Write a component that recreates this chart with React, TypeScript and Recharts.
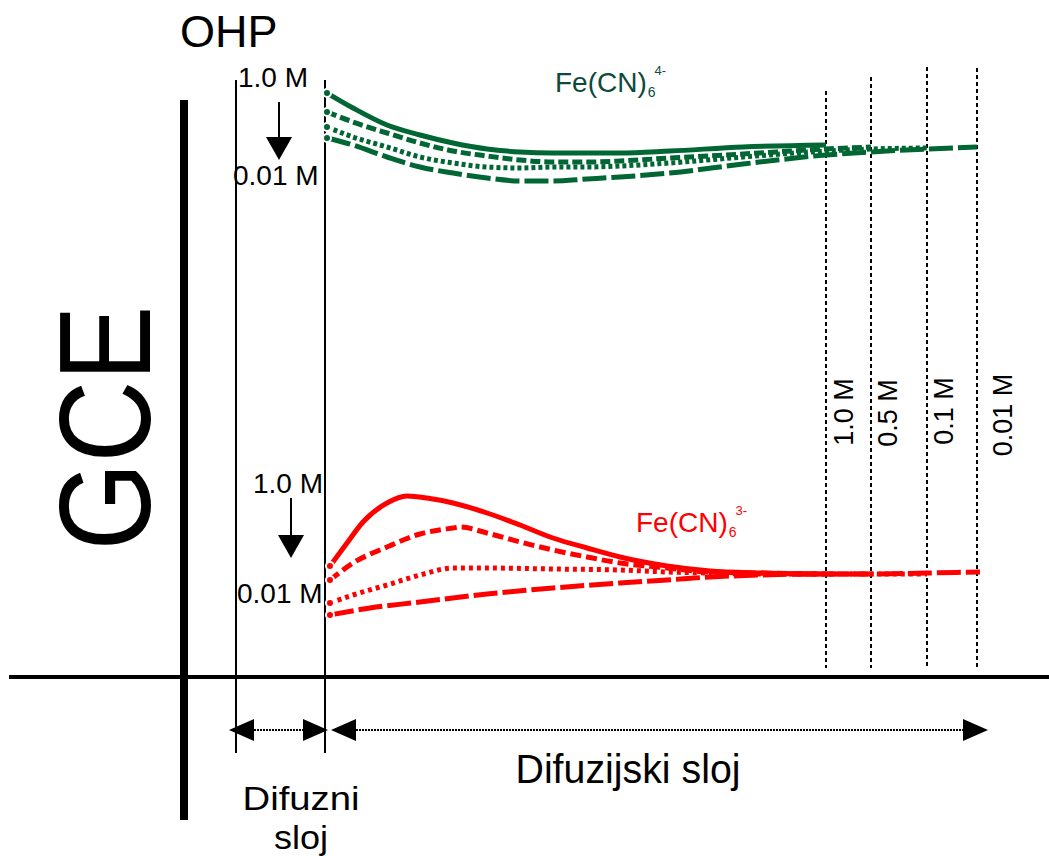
import React from "react";
import { LineChart, Line, XAxis, YAxis, ReferenceLine, ReferenceDot } from "recharts";

// Distance from the electrode surface (arbitrary units) and concentration (arbitrary units)
const greenSolidX = [143, 169, 203, 236, 269, 303, 336, 369, 403, 436, 486, 559, 642];
const greenSolidY = [584, 569, 552, 542, 534, 528, 525, 524, 524, 524, 526, 530, 532];
const greenDashX = [143, 169, 203, 236, 269, 303, 336, 369, 403, 436, 486, 559, 642, 687];
const greenDashY = [565, 555, 544, 534, 526, 521, 517, 515, 515, 516, 519, 523, 528, 530];
const greenDotX = [143, 169, 203, 236, 269, 303, 336, 369, 403, 436, 486, 559, 642, 687, 743];
const greenDotY = [550, 540, 530, 520, 514, 510, 509, 510, 510, 511, 514, 520, 526, 528, 529];
const greenLongX = [143, 169, 203, 236, 269, 303, 336, 369, 403, 436, 486, 559, 642, 687, 743, 793];
const greenLongY = [539, 532, 520, 510, 504, 499, 496, 496, 498, 500, 504, 513, 522, 525, 528, 530];

const redSolidX = [146, 163, 179, 203, 223, 243, 269, 303, 336, 369, 403, 436, 483, 526, 576, 642];
const redSolidY = [111, 134, 155, 174, 181, 179, 174, 164, 152, 139, 129, 120, 111, 106, 104, 103];
const redDashX = [146, 169, 203, 236, 269, 276, 303, 336, 369, 403, 436, 483, 526, 576, 642, 687];
const redDashY = [97, 114, 130, 143, 149, 150, 144, 135, 127, 120, 114, 109, 105, 104, 103, 103];
const redDotX = [146, 169, 203, 236, 269, 303, 369, 436, 483, 526, 576, 642, 687, 743];
const redDotY = [74, 82, 92, 102, 109, 109, 108, 107, 105, 104, 103, 103, 103, 103];
const redLongX = [146, 186, 236, 303, 369, 436, 483, 526, 576, 642, 687, 743, 796];
const redLongY = [62, 69, 75, 83, 89, 94, 97, 100, 102, 103, 103, 104, 105];

// diffusion-layer ends for each concentration
const layerEnds = [642, 687, 743, 793];
const layerTops = [586, 600, 610, 609];
const layerLabels = ["1.0 M", "0.5 M", "0.1 M", "0.01 M"];
const layerLabelX = [669, 713, 769, 828];
const layerLabelY = [265, 264, 266, 262];

const build = (xs: number[], ys: number[]) => xs.map((x, i) => ({ x, y: ys[i] }));

const GREEN = "#006633";
const GREEN_TEXT = "#0d4a3c";
const RED = "#ff0000";
const FONT = "'Liberation Sans', Arial, sans-serif";

const TextShape = (props: any) => {
  const { cx, cy, text, size, anchor = "start", rotate, color = "#000", length } = props;
  const extra: any = {};
  if (length) {
    extra.textLength = length;
    extra.lengthAdjust = "spacingAndGlyphs";
  }
  return (
    <text
      x={cx}
      y={cy}
      fontSize={size}
      fontFamily={FONT}
      fill={color}
      textAnchor={anchor}
      transform={rotate ? `rotate(-90 ${cx} ${cy})` : undefined}
      {...extra}
    >
      {text}
    </text>
  );
};

const IonShape = (props: any) => {
  const { cx, cy, sup, color } = props;
  return (
    <text x={cx} y={cy} fontFamily={FONT} fill={color} fontSize={28}>
      <tspan>Fe(CN)</tspan>
      <tspan dx={1} dy={5} fontSize={14}>6</tspan>
      <tspan dx={-1} dy={-22} fontSize={13}>{sup}</tspan>
    </text>
  );
};

const Head = (props: any) => {
  const { cx, cy, dir, len = 25, half = 11 } = props;
  let pts = "";
  if (dir === "left") pts = `${cx},${cy} ${cx + len},${cy - half} ${cx + len},${cy + half}`;
  if (dir === "right") pts = `${cx},${cy} ${cx - len},${cy - half} ${cx - len},${cy + half}`;
  if (dir === "down") pts = `${cx},${cy} ${cx - half},${cy - len} ${cx + half},${cy - len}`;
  return <polygon points={pts} fill="#000" />;
};

const txt = (x: number, y: number, text: string, opts: any = {}, key?: string) => (
  <ReferenceDot
    key={key}
    x={x}
    y={y}
    r={0}
    ifOverflow="visible"
    shape={(p: any) => <TextShape {...p} text={text} {...opts} />}
  />
);

const head = (x: number, y: number, dir: string, opts: any = {}) => (
  <ReferenceDot x={x} y={y} r={0} ifOverflow="visible" shape={(p: any) => <Head {...p} dir={dir} {...opts} />} />
);

const seg = (x1: number, y1: number, x2: number, y2: number, stroke: string, width: number, dash?: string, key?: string) => (
  <ReferenceLine
    key={key}
    segment={[{ x: x1, y: y1 }, { x: x2, y: y2 }]}
    stroke={stroke}
    strokeWidth={width}
    strokeDasharray={dash}
    ifOverflow="visible"
  />
);

export default function App() {
  return (
    <div style={{ position: "absolute", left: 0, top: 0, width: 1049, height: 856, background: "#fff" }}>
      <LineChart width={1049} height={856} margin={{ top: 0, right: 0, bottom: 0, left: 0 }}>
        <XAxis type="number" dataKey="x" domain={[-184, 865]} hide allowDataOverflow />
        <YAxis type="number" domain={[-179, 677]} hide allowDataOverflow />

        {/* baseline and electrode */}
        {seg(-175, 0, 865, 0, "#000", 4)}
        {seg(0, 577, 0, -143, "#000", 8)}
        {/* OHP and diffuse layer boundary */}
        {seg(52, 597, 52, -76, "#000", 2)}
        {seg(141, 597, 141, -76, "#000", 2)}
        {/* diffusion layer ends */}
        {layerEnds.map((x, i) => seg(x, layerTops[i], x, 9, "#000", 2, "4 3", `le${i}`))}
        {layerLabels.map((t, i) => txt(layerLabelX[i], layerLabelY[i], t, { size: 27, anchor: "middle", rotate: true }, `ll${i}`))}

        <Line data={build(greenSolidX, greenSolidY)} dataKey="y" type="monotone" stroke={GREEN} strokeWidth={5} dot={false} isAnimationActive={false} />
        <Line data={build(greenDashX, greenDashY)} dataKey="y" type="monotone" stroke={GREEN} strokeWidth={5} strokeDasharray="10 4" dot={false} isAnimationActive={false} />
        <Line data={build(greenDotX, greenDotY)} dataKey="y" type="monotone" stroke={GREEN} strokeWidth={5} strokeDasharray="4 3" dot={false} isAnimationActive={false} />
        <Line data={build(greenLongX, greenLongY)} dataKey="y" type="monotone" stroke={GREEN} strokeWidth={5} strokeDasharray="24 5" dot={false} isAnimationActive={false} />

        <Line data={build(redSolidX, redSolidY)} dataKey="y" type="monotone" stroke={RED} strokeWidth={5} dot={false} isAnimationActive={false} />
        <Line data={build(redDashX, redDashY)} dataKey="y" type="monotone" stroke={RED} strokeWidth={5} strokeDasharray="11 5" dot={false} isAnimationActive={false} />
        <Line data={build(redDotX, redDotY)} dataKey="y" type="monotone" stroke={RED} strokeWidth={5} strokeDasharray="4 4" dot={false} isAnimationActive={false} />
        <Line data={build(redLongX, redLongY)} dataKey="y" type="monotone" stroke={RED} strokeWidth={5} strokeDasharray="24 5" dot={false} isAnimationActive={false} />

        {/* labels */}
        {txt(-4, 630, "OHP", { size: 45 })}
        {txt(-34, 249, "GCE", { size: 130, anchor: "middle", rotate: true, length: 245 })}
        {txt(54, 590, "1.0 M", { size: 28 })}
        {txt(49, 492, "0.01 M", { size: 28 })}
        {txt(69, 184, "1.0 M", { size: 28 })}
        {txt(53, 74, "0.01 M", { size: 28 })}
        <ReferenceDot x={371} y={585} r={0} ifOverflow="visible" shape={(p: any) => <IonShape {...p} sup="4-" color={GREEN_TEXT} />} />
        <ReferenceDot x={452} y={145} r={0} ifOverflow="visible" shape={(p: any) => <IonShape {...p} sup="3-" color={RED} />} />

        {/* concentration arrows */}
        {seg(95, 575, 95, 537, "#000", 2)}
        {head(95, 517, "down", { len: 23, half: 13 })}
        {seg(107, 179, 107, 140, "#000", 2)}
        {head(107, 119, "down", { len: 23, half: 13 })}

        {/* layer-width arrows */}
        {seg(70, -53, 119, -53, "#000", 2, "2 1")}
        {head(45, -53, "left")}
        {head(144, -53, "right")}
        {seg(172, -53, 780, -53, "#000", 2, "2 1")}
        {head(147, -53, "left")}
        {head(804, -53, "right")}

        {txt(444, -106, "Difuzijski sloj", { size: 40, anchor: "middle", length: 225 })}
        {txt(117, -133, "Difuzni", { size: 34, anchor: "middle", length: 117 })}
        {txt(117, -172, "sloj", { size: 34, anchor: "middle", length: 54 })}
      </LineChart>
    </div>
  );
}
